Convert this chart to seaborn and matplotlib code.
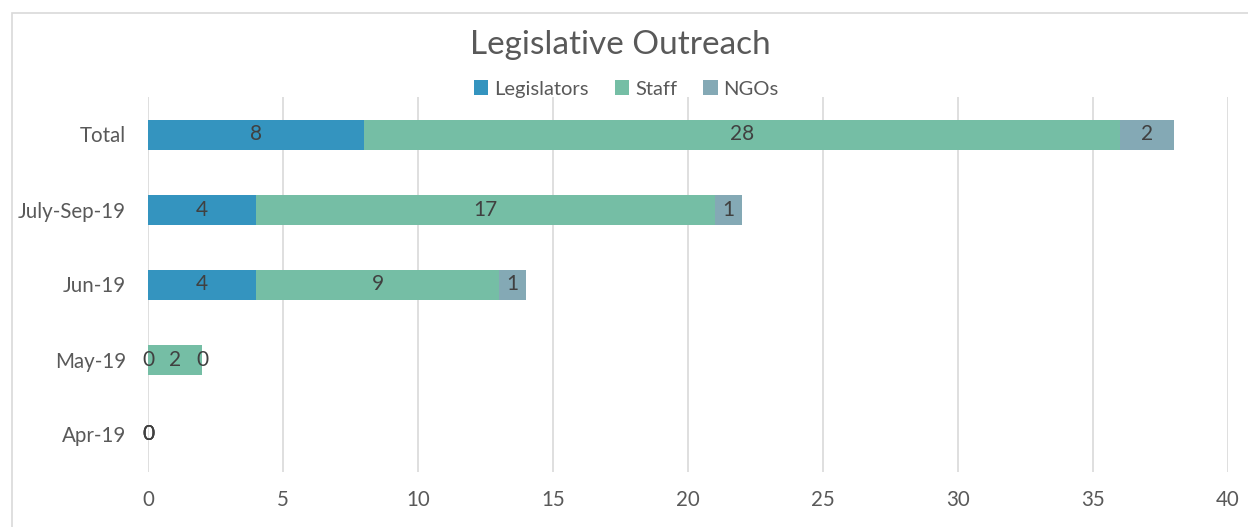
import matplotlib
matplotlib.use("Agg")
import matplotlib.pyplot as plt
import seaborn as sns
import pandas as pd
import numpy as np
from matplotlib.patches import Rectangle, Patch

categories = ["Total", "July-Sep-19", "Jun-19", "May-19", "Apr-19"]
legislators = [8, 4, 4, 0, 0]
staff = [28, 17, 9, 2, 0]
ngos = [2, 1, 1, 0, 0]
series_names = ["Legislators", "Staff", "NGOs"]
colors = ["#3494BF", "#75BEA5", "#84A9B5"]

sns.set_theme(style="white")
plt.rcParams['font.family'] = ['Lato', 'DejaVu Sans']

df = pd.DataFrame({"cat": categories, "L": legislators, "S": staff, "N": ngos})
df["LS"] = df["L"] + df["S"]
df["LSN"] = df["LS"] + df["N"]

fig = plt.figure(figsize=(12.48, 5.27), dpi=100)
ax = fig.add_axes([148/1248, 1-472/527, (1228-148)/1248, (472-97)/527])

for col, c in zip(["LSN", "LS", "L"], [colors[2], colors[1], colors[0]]):
    sns.barplot(data=df, x=col, y="cat", order=categories, color=c,
                width=0.4, orient="h", ax=ax, saturation=1, linewidth=0, zorder=3)

# data labels
for i, cat in enumerate(categories):
    l, s, n = legislators[i], staff[i], ngos[i]
    for val, center in [(l, l/2), (s, l + s/2), (n, l + s + n/2)]:
        ax.text(center, i, str(val), ha="center", va="center", fontsize=15,
                color="#404040", zorder=5)

ax.set_xlim(0, 40)
ax.set_xticks(range(0, 41, 5))
ax.set_ylim(4.5, -0.5)
ax.xaxis.grid(True, color="#d9d9d9", linewidth=1.2, zorder=0)
ax.set_axisbelow(True)
for sp in ax.spines.values():
    sp.set_visible(False)
ax.set_xlabel("")
ax.set_ylabel("")
ax.tick_params(axis="both", length=0, labelsize=14.8, labelcolor="#595959")
ax.tick_params(axis="x", pad=13)
ax.tick_params(axis="y", pad=16)

fig.text(0.497, 1-45/527, "Legislative Outreach", ha="center", va="center",
         fontsize=24, color="#595959")

handles = [Patch(facecolor=c, edgecolor="none") for c in colors]
fig.legend(handles, series_names, loc="center", bbox_to_anchor=(0.502, 1-89/527),
           ncol=3, frameon=False, fontsize=14.5, labelcolor="#595959",
           handlelength=0.7, handleheight=0.7, handletextpad=0.3, columnspacing=1.3)

fig.patches.append(Rectangle((12/1248, -0.1), 1.2, 1-13/527+0.1, transform=fig.transFigure,
                             fill=False, edgecolor="#d9d9d9", linewidth=1.2))

fig.savefig("out.png", dpi=100)
